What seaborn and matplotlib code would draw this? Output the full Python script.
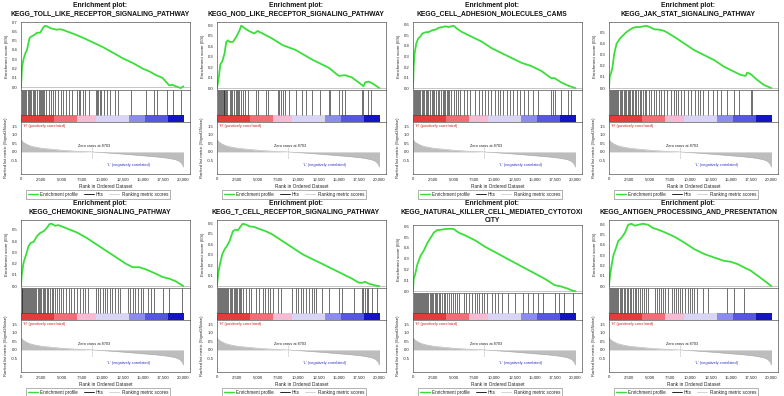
import matplotlib
matplotlib.use("Agg")
import matplotlib.pyplot as plt
from matplotlib.lines import Line2D
from matplotlib.ticker import FuncFormatter, MultipleLocator
import seaborn as sns
import numpy as np
import pandas as pd

# ---------------------------------------------------------------
# data
# ---------------------------------------------------------------
titles = [
    "KEGG_TOLL_LIKE_RECEPTOR_SIGNALING_PATHWAY",
    "KEGG_NOD_LIKE_RECEPTOR_SIGNALING_PATHWAY",
    "KEGG_CELL_ADHESION_MOLECULES_CAMS",
    "KEGG_JAK_STAT_SIGNALING_PATHWAY",
    "KEGG_CHEMOKINE_SIGNALING_PATHWAY",
    "KEGG_T_CELL_RECEPTOR_SIGNALING_PATHWAY",
    "KEGG_NATURAL_KILLER_CELL_MEDIATED_CYTOTOXI\nCITY",
    "KEGG_ANTIGEN_PROCESSING_AND_PRESENTATION",
]

es_rank_toll = [0, 122, 326, 529, 733, 1058, 1343, 1750, 1954, 2361, 2768, 2971, 3175, 3582,
                3989, 4396, 4803, 5210, 5617, 6431, 7652, 8873, 10094, 11315, 12536, 13757,
                14978, 15792, 16606, 17420, 17827, 18234, 18641, 19048, 19659, 19985]
es_toll = [0.0, 0.215, 0.307, 0.363, 0.40, 0.53, 0.548, 0.567, 0.585, 0.585, 0.645, 0.66,
           0.655, 0.635, 0.625, 0.618, 0.622, 0.615, 0.60, 0.575, 0.53, 0.48, 0.43, 0.37,
           0.31, 0.26, 0.20, 0.17, 0.13, 0.10, 0.06, 0.02, 0.025, 0.01, -0.01, 0.01]

es_rank_nod = [0, 122, 244, 407, 651, 936, 1140, 1343, 1547, 1954, 2361, 2564, 2768, 2971,
               3175, 3582, 3989, 4599, 5006, 5210, 5617, 6838, 8059, 9687, 11722, 13757,
               14978, 15792, 16606, 17827, 18030, 18234, 18641, 19048, 19659, 19985]
es_nod = [0.0, 0.055, 0.117, 0.225, 0.255, 0.332, 0.44, 0.455, 0.44, 0.44, 0.486, 0.517,
          0.548, 0.594, 0.585, 0.56, 0.542, 0.52, 0.545, 0.535, 0.52, 0.47, 0.41, 0.363,
          0.271, 0.194, 0.117, 0.123, 0.102, 0.031, 0.018, 0.055, 0.062, 0.049, 0.018, 0.0]

es_rank_cam = [0, 81, 204, 407, 651, 936, 1140, 1547, 1954, 2361, 2768, 3175, 3582, 3989,
               4396, 4803, 5006, 5413, 6024, 7245, 8466, 9687, 10908, 12129, 13350, 14571,
               15792, 16606, 17013, 17420, 18234, 19048, 19985]
es_cam = [0.0, 0.209, 0.332, 0.425, 0.471, 0.492, 0.517, 0.529, 0.532, 0.548, 0.554, 0.572,
          0.578, 0.585, 0.578, 0.588, 0.591, 0.563, 0.532, 0.486, 0.44, 0.378, 0.332, 0.286,
          0.24, 0.209, 0.163, 0.117, 0.095, 0.095, 0.055, 0.025, 0.0]

es_rank_jak = [0, 81, 244, 407, 651, 936, 1343, 1750, 2157, 2564, 2971, 3378, 3785, 4192,
               4599, 5006, 5617, 6228, 6838, 8059, 9280, 10501, 11722, 12943, 14164, 15385,
               16199, 16809, 17013, 17420, 18234, 19048, 19985]
es_jak = [0.0, 0.103, 0.132, 0.176, 0.309, 0.397, 0.441, 0.471, 0.50, 0.521, 0.538, 0.544,
          0.544, 0.55, 0.556, 0.544, 0.524, 0.521, 0.509, 0.456, 0.397, 0.338, 0.294, 0.25,
          0.191, 0.147, 0.118, 0.109, 0.138, 0.126, 0.074, 0.029, 0.0]

es_rank_chemo = [0, 81, 326, 651, 936, 1221, 1547, 1954, 2361, 2768, 3175, 3500, 3785, 4192,
                 4599, 5210, 6024, 6838, 8059, 9280, 10501, 11722, 12943, 13757, 14571,
                 15385, 16606, 17420, 18234, 19048, 19985]
es_chemo = [0.0, 0.096, 0.212, 0.284, 0.357, 0.386, 0.391, 0.443, 0.472, 0.487, 0.516,
            0.551, 0.554, 0.536, 0.542, 0.525, 0.501, 0.478, 0.429, 0.371, 0.313, 0.255,
            0.197, 0.168, 0.168, 0.148, 0.11, 0.081, 0.067, 0.043, 0.0]

es_rank_tcr = [0, 122, 326, 651, 936, 1221, 1547, 1750, 1954, 2279, 2564, 2971, 3175, 3582,
               3989, 4599, 5210, 6024, 6838, 8059, 9280, 10501, 11722, 12943, 14164, 15385,
               16606, 17420, 17827, 18234, 18641, 19048, 19659, 19985]
es_tcr = [0.0, 0.103, 0.197, 0.306, 0.353, 0.384, 0.431, 0.478, 0.525, 0.541, 0.534, 0.578,
          0.597, 0.588, 0.572, 0.566, 0.547, 0.525, 0.494, 0.431, 0.369, 0.306, 0.259,
          0.213, 0.166, 0.119, 0.072, 0.034, 0.031, 0.041, 0.025, 0.016, 0.003, 0.0]

es_rank_nk = [0, 81, 244, 529, 936, 1343, 1750, 2157, 2564, 2971, 3378, 3989, 4599, 5006,
              5617, 6431, 7652, 8873, 10094, 11315, 12536, 13757, 14978, 16199, 17420,
              18234, 19048, 19659, 19985]
es_nk = [0.0, 0.115, 0.148, 0.246, 0.328, 0.377, 0.443, 0.492, 0.541, 0.564, 0.567, 0.574,
         0.577, 0.574, 0.541, 0.515, 0.469, 0.41, 0.361, 0.311, 0.262, 0.213, 0.164, 0.115,
         0.056, 0.043, 0.023, 0.003, 0.0]

es_rank_apc = [0, 81, 244, 529, 814, 1140, 1547, 1954, 2361, 2768, 3175, 3582, 4192, 4803,
               5413, 6024, 6838, 8059, 9280, 10501, 11722, 12943, 14164, 14978, 15792,
               16606, 17420, 18234, 19048, 19985]
es_apc = [0.0, 0.072, 0.167, 0.296, 0.358, 0.437, 0.469, 0.516, 0.594, 0.604, 0.585, 0.594,
          0.604, 0.594, 0.563, 0.547, 0.522, 0.478, 0.421, 0.358, 0.311, 0.277, 0.245,
          0.236, 0.214, 0.182, 0.151, 0.104, 0.057, 0.0]

hits_toll = [122, 244, 407, 529, 651, 814, 936, 1140, 1262, 1425, 1547, 1750, 1954, 2157,
             2361, 2483, 2605, 2768, 2890, 3093, 3460, 3704, 3907, 4192, 4599, 4925, 5210,
             5536, 5943, 6228, 6920, 7082, 7245, 7570, 7855, 8384, 9280, 9402, 9524, 9687,
             9850, 10216, 10623, 10908, 11518, 11925, 13553, 15385, 16402, 16687, 18030,
             18763, 19659]
hits_nod = [122, 244, 326, 448, 570, 692, 814, 895, 1017, 1140, 1262, 1547, 1709, 1872, 2035,
            2279, 2442, 2605, 2768, 2930, 3175, 3500, 3785, 4803, 5006, 6024, 6228, 7448,
            7652, 7896, 8140, 8384, 8873, 9687, 10501, 10908, 11722, 12617, 13757, 13960,
            14978, 15385, 15792, 17827, 18030, 18641, 18967]
hits_cam = [81, 204, 326, 448, 611, 733, 895, 1058, 1221, 1384, 1547, 1709, 1872, 2076, 2279,
            2442, 2646, 2849, 3053, 3256, 3500, 3663, 3826, 3989, 4151, 4314, 4477, 4640,
            5006, 5291, 5495, 5820, 6227, 6634, 7041, 7570, 8140, 8466, 8873, 9280, 9605,
            10094, 10419, 10704, 11111, 11518, 11925, 12332, 12739, 13146, 13675, 14164,
            14774, 15385, 17013, 17216, 17420, 18234, 19048, 19455]
hits_jak = [81, 204, 326, 448, 570, 733, 855, 1017, 1140, 1302, 1465, 1628, 1791, 1954, 2116,
            2279, 2442, 2646, 2809, 3012, 3175, 3378, 3582, 3785, 3989, 4192, 4396, 4599,
            4884, 5210, 5536, 5820, 6105, 6431, 6756, 7082, 7652, 7977, 8262, 8547, 8873,
            9198, 9687, 10094, 10582, 10908, 11233, 11559, 12129, 12739, 13350, 13757, 14571,
            15385, 15996, 17420, 17623]
hits_chemo = [81, 163, 244, 366, 488, 611, 733, 855, 977, 1099, 1221, 1343, 1465, 1587, 1709,
              1872, 2035, 2198, 2361, 2523, 2686, 2849, 3012, 3175, 3378, 3582, 3785, 3989,
              4233, 4477, 4721, 4966, 5210, 5536, 5861, 6187, 6512, 6838, 7245, 7570, 7896,
              8262, 9280, 9524, 9768, 10094, 10338, 10582, 10908, 11233, 11559, 11925, 12210,
              13146, 13431, 13757, 14083, 14408, 14774, 15059, 15588, 15996, 16402, 17420,
              18234, 19862]
hits_tcr = [81, 204, 326, 448, 570, 692, 814, 936, 1058, 1221, 1384, 1547, 1709, 1872, 2035,
            2198, 2361, 2523, 2686, 2849, 3012, 3256, 3582, 3907, 4233, 4803, 5210, 5617,
            5943, 6228, 6512, 6838, 7448, 7855, 9280, 9687, 10012, 10297, 10582, 10908, 11315,
            11640, 11925, 12210, 12943, 13757, 14978, 15385, 16809, 17827, 18030, 18234,
            18437, 18641, 19048, 19659]
hits_nk = [81, 204, 326, 448, 570, 692, 814, 936, 1058, 1180, 1302, 1424, 1547, 1709, 1872,
           2035, 2198, 2361, 2523, 2686, 2849, 3012, 3175, 3378, 3582, 3785, 3989, 4233, 4477,
           4721, 4966, 5210, 5454, 5698, 6227, 6512, 6838, 7245, 7570, 7896, 8140, 8466, 8791,
           9117, 9687, 10094, 10501, 10908, 11722, 12536, 13553, 14164, 14774, 15385, 15996,
           17420, 18030, 18641, 19659]
hits_apc = [81, 204, 326, 448, 570, 692, 814, 977, 1140, 1302, 1465, 1628, 1791, 1954, 2157,
            2361, 2564, 2768, 2971, 3175, 3378, 3582, 3826, 4070, 4314, 4599, 4803, 5617,
            5861, 6105, 6350, 6634, 6920, 7245, 7733, 7977, 8221, 8466, 8710, 9036, 9361,
            9687, 9931, 10175, 10501, 10826, 11518, 12129, 14571, 15385, 16606]

# ranked list metric (same ranked list for every gene set)
metric_rank = [0, 200, 500, 1000, 1500, 2500, 3500, 5000, 6500, 8703, 10500, 12500, 14500,
               16500, 18000, 19000, 19500, 19800, 20000]
metric_val = [0.72, 0.60, 0.50, 0.38, 0.31, 0.22, 0.17, 0.10, 0.05, 0.0, -0.05, -0.12, -0.20,
              -0.28, -0.36, -0.45, -0.55, -0.70, -0.90]
zero_cross = 8703

bar_edges = [0, 4050, 6870, 9200, 13250, 15220, 18040, 20000]
bar_colors = ["#e23c3c", "#f06e78", "#f5bcd4", "#d8d6f4", "#8c8cee", "#5656de", "#1414c4"]

xticks = [0, 2500, 5000, 7500, 10000, 12500, 15000, 17500, 20000]

es_ranks = [es_rank_toll, es_rank_nod, es_rank_cam, es_rank_jak,
            es_rank_chemo, es_rank_tcr, es_rank_nk, es_rank_apc]
es_scores = [es_toll, es_nod, es_cam, es_jak, es_chemo, es_tcr, es_nk, es_apc]
hit_sets = [hits_toll, hits_nod, hits_cam, hits_jak, hits_chemo, hits_tcr, hits_nk, hits_apc]

# ---------------------------------------------------------------
# style
# ---------------------------------------------------------------
sns.set_style("white")
plt.rcParams["font.family"] = ["Liberation Sans", "DejaVu Sans"]
plt.rcParams.update({
    "axes.linewidth": 0.5,
    "axes.edgecolor": "#555555",
    "xtick.major.size": 1.5,
    "ytick.major.size": 1.5,
    "xtick.major.width": 0.4,
    "ytick.major.width": 0.4,
    "xtick.major.pad": 1,
    "ytick.major.pad": 1,
    "xtick.labelsize": 3.1,
    "ytick.labelsize": 3.1,
})

W, H = 784, 396
fig = plt.figure(figsize=(W / 100, H / 100), dpi=100)
fig.patch.set_facecolor("white")

XMAX = 20800
GREEN = "#3ade3a"
metric_df = pd.DataFrame({"rank": metric_rank, "metric": metric_val})


def px_axes(x0, y0, w, h):
    return fig.add_axes([x0 / W, 1 - (y0 + h) / H, w / W, h / H])


for i in range(8):
    col, row = i % 4, i // 4
    ox, oy = 196 * col, 198 * row
    shift = 5 if "\n" in titles[i] else 0

    fig.text((ox + 100) / W, 1 - (oy + 2) / H,
             "Enrichment plot:\n" + titles[i],
             ha="center", va="top", fontsize=4.9, fontweight="bold",
             linespacing=1.3, color="#111111")

    # ---- enrichment score --------------------------------------
    ax_es = px_axes(ox + 21, oy + 22 + shift, 169, 68)
    df = pd.DataFrame({"rank": es_ranks[i], "es": es_scores[i]})
    sns.lineplot(data=df, x="rank", y="es", ax=ax_es, color=GREEN, lw=1.3)
    ax_es.axhline(0, color="#999999", lw=0.4, zorder=0)
    lo, hi = min(es_scores[i]), max(es_scores[i])
    rng = hi - lo
    ax_es.set_ylim(lo - 0.03 * rng, hi + 0.06 * rng)
    ax_es.set_xlim(0, XMAX)
    ax_es.yaxis.set_major_locator(MultipleLocator(0.1))
    ax_es.yaxis.set_major_formatter(FuncFormatter(lambda v, p: f"{v:.1f}"))
    ax_es.set_xticks([])
    ax_es.set_xlabel("")
    ax_es.set_ylabel("Enrichment score (ES)", fontsize=3.2, labelpad=2)

    # ---- hits + coloured ranking bar ---------------------------
    hit_h = 32 - shift
    ax_hit = px_axes(ox + 21, oy + 90 + shift, 169, hit_h)
    ax_hit.vlines(hit_sets[i], 7.0 / hit_h, 1, color="#111111", lw=0.42)
    for k in range(len(bar_colors)):
        ax_hit.axvspan(bar_edges[k], bar_edges[k + 1], ymin=0, ymax=7.0 / hit_h,
                       color=bar_colors[k], lw=0)
    ax_hit.set_xlim(0, XMAX)
    ax_hit.set_ylim(0, 1)
    ax_hit.set_xticks([])
    ax_hit.set_yticks([])

    # ---- ranked list metric ------------------------------------
    ax_rk = px_axes(ox + 21, oy + 122, 169, 52)
    ax_rk.fill_between(metric_rank, 0, metric_val, color="#bdbdbd", lw=0)
    sns.lineplot(data=metric_df, x="rank", y="metric", ax=ax_rk,
                 color="#b0b0b0", lw=0.4)
    ax_rk.axvline(zero_cross, ymin=0.3, ymax=0.55, color="#aaaaaa", lw=0.4, ls="--")
    ax_rk.set_xlim(0, XMAX)
    ax_rk.set_ylim(-1.3, 1.76)
    ax_rk.set_yticks([-0.5, 0.0, 0.5, 1.0, 1.5])
    ax_rk.yaxis.set_major_formatter(FuncFormatter(lambda v, p: f"{v:.1f}"))
    ax_rk.set_xticks(xticks)
    ax_rk.xaxis.set_major_formatter(FuncFormatter(lambda v, p: f"{int(v):,}"))
    ax_rk.set_xlabel("Rank in Ordered Dataset", fontsize=3.4, labelpad=1.5)
    ax_rk.set_ylabel("Ranked list metric (Signal2Noise)", fontsize=3.0, labelpad=2)
    ax_rk.text(300, 1.66, "'H' (positively correlated)", color="#d42020",
               fontsize=2.8, ha="left", va="top")
    ax_rk.text(9000, 0.36, "Zero cross at 8703", color="#222222",
               fontsize=2.8, ha="center", va="center")
    ax_rk.text(13200, -0.78, "'L' (negatively correlated)", color="#3030c0",
               fontsize=2.8, ha="center", va="center")

    handles = [Line2D([], [], color=GREEN, lw=1.0),
               Line2D([], [], color="black", lw=0.6),
               Line2D([], [], color="#cccccc", lw=0.6)]
    leg = ax_rk.legend(handles, ["Enrichment profile", "Hits", "Ranking metric scores"],
                       loc="upper center", bbox_to_anchor=(0.456, -0.27), ncol=3,
                       fontsize=3.3, frameon=True, fancybox=False, framealpha=1,
                       edgecolor="#777777", handlelength=2.2, handletextpad=0.5,
                       columnspacing=1.2, borderpad=0.35)
    leg.get_frame().set_linewidth(0.4)

fig.savefig("out.png", dpi=100, facecolor="white")
